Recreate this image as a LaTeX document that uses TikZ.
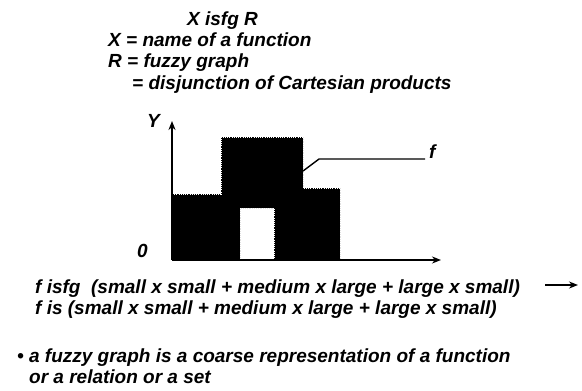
\documentclass[tikz,border=0pt]{standalone}
\usepackage{fontspec}
\setmainfont{Liberation Sans}
\usepackage{tikz}
\usetikzlibrary{arrows.meta}

\begin{document}
\begin{tikzpicture}[x=1pt,y=-1pt]
  \tikzset{slidetext/.style={anchor=base west,inner sep=0pt,font=\fontsize{19}{22}\selectfont\bfseries\itshape,text=black}}
  \tikzset{axisline/.style={draw=black,line width=1.6pt,-{Stealth[length=9pt,width=7pt]}}}
  \tikzset{blockfill/.style={fill=black,even odd rule}}
  \tikzset{blockedge/.style={draw=white,line width=0.6pt,dash pattern=on 0.8pt off 1.4pt}}
  \useasboundingbox (0,0) rectangle (582,391);
  % header
  \node[slidetext] (t0) at (187,25) {X isfg R};
  \node[slidetext] (t1) at (108,46) {X = name of a function};
  \node[slidetext] (t2) at (108,67) {R = fuzzy graph};
  \node[slidetext] (t3) at (132,89) {= disjunction of Cartesian products};
  % fuzzy graph
  \path[blockfill] (172,260) -- (172,194) -- (221,194) -- (221,137) -- (303,137)
    -- (303,188) -- (340,188) -- (340,260) -- cycle
    (240,260) -- (240,208) -- (274,208) -- (274,260) -- cycle;
  \draw[blockedge] (172,194) -- (221,194) -- (221,137) -- (303,137) -- (303,188)
    -- (340,188) -- (340,259);
  \draw[blockedge] (240,259) -- (240,208) -- (274,208) -- (274,259);
  \coordinate (o) at (172,260);
  \coordinate (ytip) at (172,121);
  \coordinate (xtip) at (441,260);
  \draw[axisline] (o) -- (ytip);
  \draw[axisline] (o) -- (xtip);
  \node[slidetext] (ylab) at (147,127) {Y};
  \node[slidetext] (zero) at (137,257) {0};
  \coordinate (fa) at (303,171);
  \coordinate (fb) at (319,159);
  \coordinate (fc) at (425,159);
  \draw[line width=1.4pt] (fa) -- (fb) -- (fc);
  \node[slidetext] (flab) at (429,158) {f};
  % formulas
  \node[slidetext] (t4) at (35,293) {f isfg \ (small x small + medium x large + large x small)};
  \coordinate (aa) at (545,285);
  \coordinate (ab) at (578,285);
  \draw[axisline,line width=1.4pt] (aa) -- (ab);
  \node[slidetext] (t5) at (35,314) {f is (small x small + medium x large + large x small)};
  % remark
  \node[slidetext] (t6) at (17,362) {\textbullet\ a fuzzy graph is a coarse representation of a function};
  \node[slidetext] (t7) at (29,383) {or a relation or a set};
\end{tikzpicture}
\end{document}
